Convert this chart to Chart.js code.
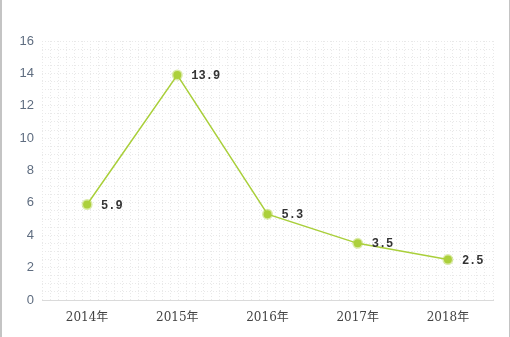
<!DOCTYPE html>
<html>
<head>
<meta charset="utf-8">
<script src="https://cdn.jsdelivr.net/npm/chart.js@4/dist/chart.umd.min.js"></script>
<style>
  html, body { margin: 0; padding: 0; background: #fff; }
  #wrap {
    width: 510px; height: 337px; box-sizing: border-box;
    border-left: 2px solid #c4c4c4; border-right: 1px solid #c4c4c4;
    position: relative;
  }
  #wrap canvas { display: block; }
</style>
</head>
<body>
<div id="wrap"><canvas id="c" width="507" height="337"></canvas></div>
<script>
// values
const years = ['2014年', '2015年', '2016年', '2017年', '2018年'];
const values = [5.9, 13.9, 5.3, 3.5, 2.5];
const yTicks = [0, 2, 4, 6, 8, 10, 12, 14, 16];

const green = '#a9cf3a';

// labels to the right of each point
const valueLabels = {
  id: 'valueLabels',
  afterDatasetsDraw(chart) {
    const ctx = chart.ctx;
    const meta = chart.getDatasetMeta(0);
    ctx.save();
    ctx.font = 'bold 12px "Liberation Mono", monospace';
    ctx.fillStyle = '#333';
    ctx.textAlign = 'left';
    ctx.textBaseline = 'middle';
    meta.data.forEach((pt, i) => {
      ctx.fillText(values[i].toFixed(1), pt.x + 14, pt.y + 1);
    });
    ctx.restore();
  }
};

new Chart(document.getElementById('c'), {
  type: 'line',
  data: {
    labels: years,
    datasets: [{
      data: values,
      borderColor: green,
      borderWidth: 1.5,
      pointRadius: 4,
      pointBackgroundColor: '#acd03c',
      pointBorderColor: 'rgba(172,208,60,0.45)',
      pointBorderWidth: 3,
      tension: 0,
      clip: false
    }]
  },
  options: {
    responsive: false,
    animation: false,
    layout: { padding: { top: 41, right: 16, left: 0, bottom: 0 } },
    plugins: { legend: { display: false }, tooltip: { enabled: false } },
    scales: {
      x: {
        position: 'bottom',
        offset: true,
        grid: { display: false, drawTicks: false, offset: true },
        border: { display: true, color: '#dadada', width: 1 },
        ticks: {
          color: '#444',
          font: { family: '"DejaVu Serif", "Noto Sans CJK SC", serif', size: 12 },
          padding: 11
        },
        afterFit: s => { s.height = 37; }
      },
      // hidden axis only for the fine dotted vertical grid
      x2: {
        type: 'linear',
        position: 'bottom',
        min: 0, max: 56,
        ticks: { display: false, stepSize: 1 },
        grid: { color: '#e9e9e9', drawTicks: false, lineWidth: 1 },
        border: { display: false, dash: [1, 2] },
        afterFit: s => { s.height = 0; }
      },
      y: {
        min: 0, max: 16,
        grid: { color: '#e9e9e9', drawTicks: false, lineWidth: 1 },
        border: { display: false, dash: [1, 2] },
        ticks: {
          stepSize: 0.5,
          autoSkip: false,
          padding: 8,
          color: '#5f6d80',
          font: { family: '"Liberation Sans", Arial, sans-serif', size: 13 },
          callback: v => yTicks.includes(v) ? String(v) : ''
        },
        afterFit: s => { s.width = 40; }
      }
    }
  },
  plugins: [valueLabels]
});
</script>
</body>
</html>
